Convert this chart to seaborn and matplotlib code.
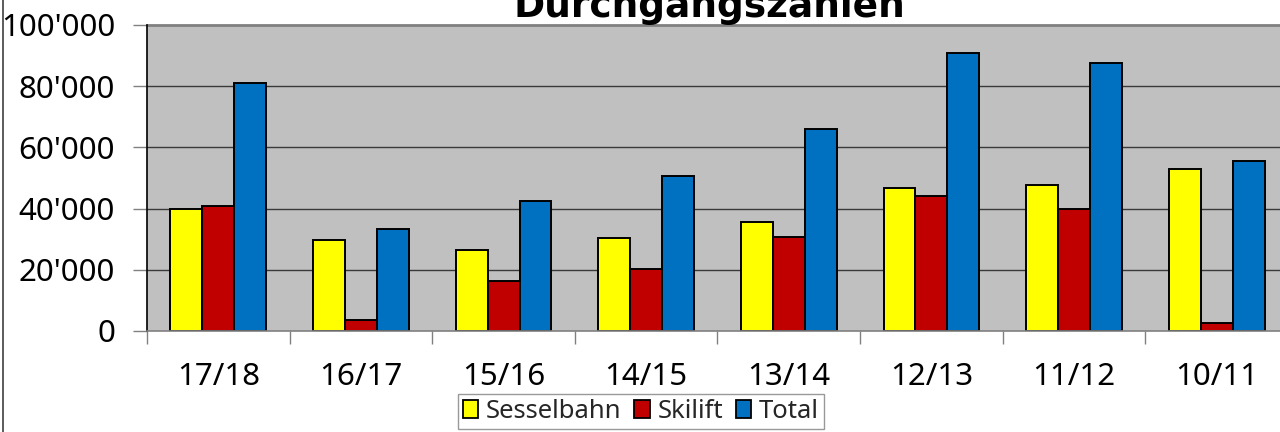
import pandas as pd
import numpy as np
import matplotlib
matplotlib.use("Agg")
import matplotlib.pyplot as plt
import matplotlib.ticker as ticker
from matplotlib.patches import Patch
from matplotlib.lines import Line2D
import seaborn as sns

sns.set_theme(style="white")
plt.rcParams['font.family'] = ['Noto Sans', 'DejaVu Sans']

# data
seasons = ["17/18", "16/17", "15/16", "14/15", "13/14", "12/13", "11/12", "10/11"]
sesselbahn = [39900, 29700, 26400, 30300, 35500, 46800, 47600, 53000]
skilift = [41000, 3500, 16200, 20300, 30600, 44000, 40000, 2600]
total = [80900, 33200, 42600, 50600, 66100, 90800, 87600, 55600]
series = ["Sesselbahn", "Skilift", "Total"]
colors = ["#FFFF00", "#C00000", "#0070C0"]
yticks = [0, 20000, 40000, 60000, 80000, 100000]

df = pd.DataFrame({
    "Saison": seasons * 3,
    "Serie": [s for s in series for _ in seasons],
    "Wert": sesselbahn + skilift + total,
})

fig = plt.figure(figsize=(12.8, 4.32), dpi=100)
ax = fig.add_axes([147 / 1280, 1 - 331 / 432, 1141 / 1280, 306 / 432])
ax.set_facecolor("#C0C0C0")

sns.barplot(
    data=df, x="Saison", y="Wert", hue="Serie",
    order=seasons, hue_order=series, palette=colors,
    width=0.672, gap=0, saturation=1,
    edgecolor="black", linewidth=1.4,
    legend=False, ax=ax,
)

ax.set_ylim(0, 100000)
ax.set_xlim(-0.5, len(seasons) - 0.5)
ax.set_yticks(yticks)
ax.yaxis.set_major_formatter(ticker.FuncFormatter(lambda v, p: f"{int(v):,}".replace(",", "'")))
ax.set_xlabel("")
ax.set_ylabel("")

# grid lines
for v in yticks[1:-1]:
    ax.axhline(v, color="#3a3a3a", linewidth=1.0, zorder=0.5)

for side in ["top", "right"]:
    ax.spines[side].set_visible(False)
ax.spines["left"].set_color("black")
ax.spines["left"].set_linewidth(1.2)
ax.spines["bottom"].set_color("#808080")
ax.spines["bottom"].set_linewidth(1.2)
ax.axhline(100000, color="#808080", linewidth=2, zorder=0.6, clip_on=False)

ax.set_xticks(range(len(seasons)))
ax.set_xticklabels(seasons)
ax.set_xticks(np.arange(-0.5, len(seasons), 1.0), minor=True)
ax.tick_params(axis="x", which="major", length=0, pad=22, labelsize=22.5, colors="black")
ax.tick_params(axis="x", which="minor", length=9, width=1, color="#808080", direction="out", bottom=True)
ax.tick_params(axis="y", which="major", length=10, width=1, color="#808080", direction="out",
               pad=13, labelsize=22.5, left=True, labelcolor="black")

handles = [Patch(facecolor=c, edgecolor="black", linewidth=1.3) for c in colors]
leg = fig.legend(
    handles, series, loc="upper center", bbox_to_anchor=(641 / 1280, 1 - 394 / 432),
    ncol=3, fontsize=18.5, frameon=True, fancybox=False, shadow=False,
    handlelength=0.6, handleheight=0.7, handletextpad=0.3, columnspacing=0.5,
    borderpad=0.2, borderaxespad=0,
)
leg.get_frame().set_edgecolor("#808080")
leg.get_frame().set_linewidth(1.0)

fig.text(709 / 1280, 1 - 17 / 432, "Durchgangszahlen", ha="center", va="baseline",
         fontsize=27, fontweight="bold", family=["DejaVu Sans"], color="black")

fig.add_artist(Line2D([2.5 / 1280, 2.5 / 1280], [0, 1], transform=fig.transFigure,
                      color="#404040", linewidth=1.2))

fig.savefig("out.png", dpi=100)
